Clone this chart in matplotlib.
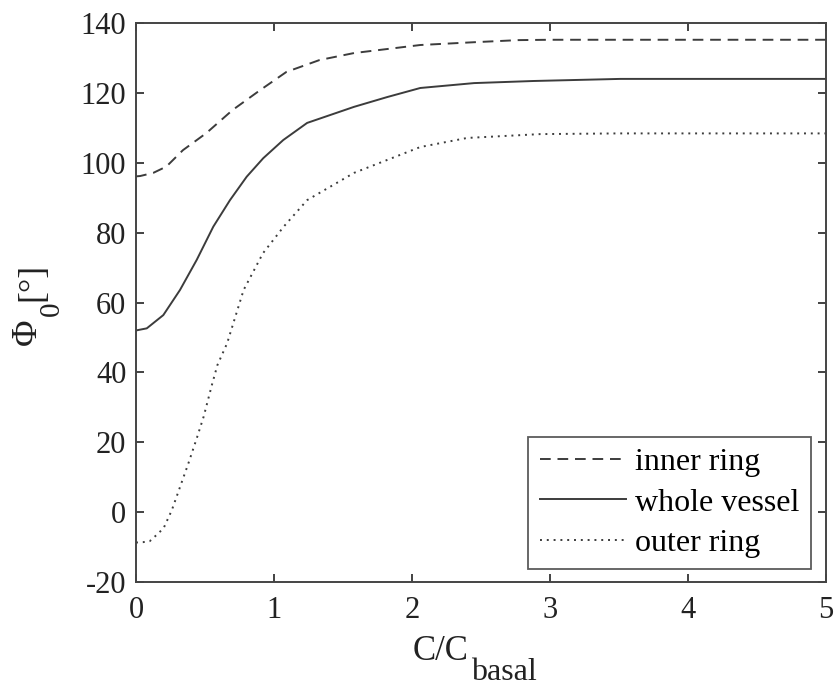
import matplotlib
matplotlib.use("Agg")
import matplotlib.pyplot as plt

plt.rcParams['font.family'] = 'Liberation Serif'
plt.rcParams['axes.unicode_minus'] = False

# values
x_inner = [0.0, 0.03, 0.125, 0.22, 0.34, 0.51, 0.70, 0.90, 1.09, 1.33, 1.58, 2.06, 2.45, 2.77, 3.0, 5.0]
y_inner = [96.1, 96.2, 97.1, 98.9, 103.6, 108.5, 115.1, 120.8, 126.0, 129.4, 131.4, 133.7, 134.5, 135.1, 135.2, 135.2]

x_whole = [0.0, 0.078, 0.198, 0.319, 0.44, 0.56, 0.681, 0.802, 0.922, 1.067, 1.24, 1.58, 1.82, 2.06, 2.45, 2.88, 3.51, 5.0]
y_whole = [52.0, 52.6, 56.4, 63.6, 72.2, 81.7, 89.3, 96.0, 101.3, 106.5, 111.4, 116.0, 118.8, 121.4, 122.8, 123.4, 124.0, 124.0]

x_outer = [0.0, 0.05, 0.10, 0.15, 0.2, 0.26, 0.32, 0.38, 0.44, 0.49, 0.55, 0.59, 0.66, 0.78, 0.92, 1.07, 1.24,
           1.58, 1.82, 2.06, 2.4, 2.93, 3.5, 5.0]
y_outer = [-8.7, -8.6, -8.3, -6.5, -4.6, 0.6, 7.3, 14.0, 21.1, 27.3, 36.4, 42.1, 48.3, 63.6, 74.1, 81.7, 89.3,
           97.1, 100.8, 104.5, 107.1, 108.2, 108.4, 108.4]

labels = ['inner ring', 'whole vessel', 'outer ring']
xticks = [0, 1, 2, 3, 4, 5]
yticks = [-20, 0, 20, 40, 60, 80, 100, 120, 140]

col = '#3c3c3c'
W, H = 838, 690

fig = plt.figure(figsize=(W / 100, H / 100), dpi=100)
ax = fig.add_axes([136 / W, 1 - 582 / H, 690 / W, 559 / H])

ax.plot(x_inner, y_inner, color=col, lw=1.4, ls=(0, (5.5, 3.5)), label=labels[0])
ax.plot(x_whole, y_whole, color=col, lw=1.4, ls='-', label=labels[1])
ax.plot(x_outer, y_outer, color=col, lw=1.4, ls=(0, (1, 2.5)), label=labels[2])

ax.set_xlim(0, 5)
ax.set_ylim(-20, 140)
ax.set_xticks(xticks)
ax.set_yticks(yticks)
ax.tick_params(direction='in', top=True, right=True, length=6, width=1.2,
               labelsize=22, colors='#222222', pad=7)
ax.tick_params(axis='x', pad=10)
for s in ax.spines.values():
    s.set_linewidth(1.4)
    s.set_color('#444444')

# axis labels, built by hand to get the big low subscripts
def fx(px):
    return px / W

def fy(py):
    return 1 - py / H

fig.text(fx(441), fy(651), 'C/C', fontsize=25, ha='center', va='center', color='#222222')
fig.text(fx(504), fy(673), 'basal', fontsize=23, ha='center', va='center', color='#222222')

fig.text(fx(27), fy(332), '\u03a6', fontsize=26, rotation=90, ha='center', va='center', color='#222222')
fig.text(fx(52), fy(309), '0', fontsize=21, rotation=90, ha='center', va='center', color='#222222')
fig.text(fx(33), fy(282), '[\u00b0]', fontsize=26, rotation=90, ha='center', va='center', color='#222222')

leg = ax.legend(loc='lower right', fontsize=23, frameon=True, fancybox=False,
                handlelength=2.7, handletextpad=0.3, borderpad=0.35,
                labelspacing=0.34, borderaxespad=0,
                bbox_to_anchor=((811 - 136) / 690, (582 - 569) / 559))
leg.get_frame().set_edgecolor('#333333')
leg.get_frame().set_linewidth(1.3)

fig.savefig('out.png', dpi=100)
